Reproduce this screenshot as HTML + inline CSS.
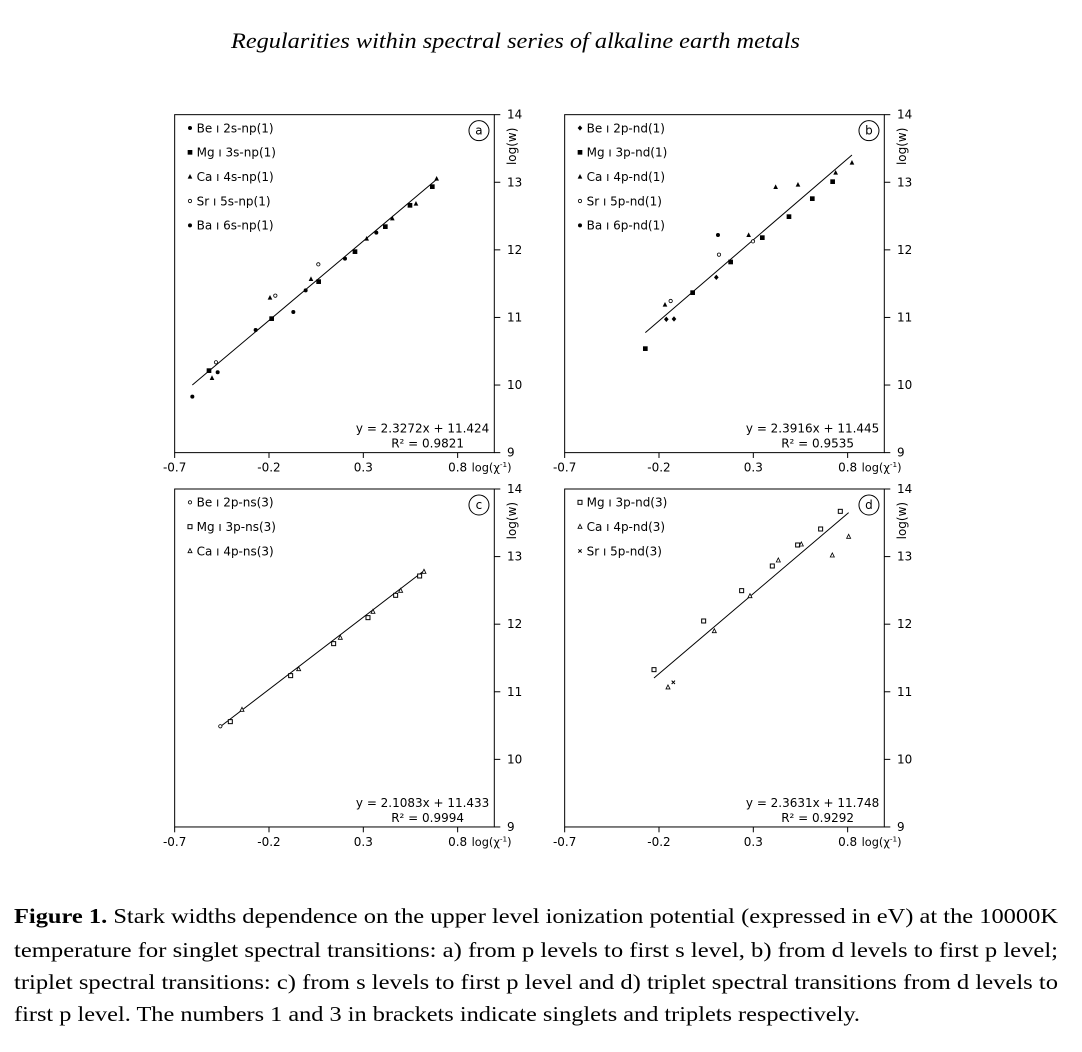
<!DOCTYPE html>
<html><head><meta charset="utf-8">
<style>
html,body{margin:0;padding:0;background:#fff;}
svg{display:block;}
</style></head>
<body>
<svg id="s" width="1082" height="1052" xmlns="http://www.w3.org/2000/svg" font-family="'DejaVu Sans','Liberation Sans',sans-serif">
<rect width="1082" height="1052" fill="#fff"/>
<text x="231" y="48" font-family="'Liberation Serif',serif" font-style="italic" font-size="22" textLength="569" lengthAdjust="spacingAndGlyphs">Regularities within spectral series of alkaline earth metals</text>
<g font-family="'Liberation Serif',serif" font-size="21.5" fill="#000">
<text x="14" y="923" textLength="1044" lengthAdjust="spacingAndGlyphs"><tspan font-weight="bold">Figure 1.</tspan> Stark widths dependence on the upper level ionization potential (expressed in eV) at the 10000K</text>
<text x="14" y="957" textLength="1044" lengthAdjust="spacingAndGlyphs">temperature for singlet spectral transitions: a) from p levels to first s level, b) from d levels to first p level;</text>
<text x="14" y="989" textLength="1044" lengthAdjust="spacingAndGlyphs">triplet spectral transitions: c) from s levels to first p level and d) triplet spectral transitions from d levels to</text>
<text x="14" y="1021" textLength="846" lengthAdjust="spacingAndGlyphs">first p level. The numbers 1 and 3 in brackets indicate singlets and triplets respectively.</text>
</g>
</svg>
<script>
var NS="http://www.w3.org/2000/svg";
var svg=document.getElementById('s');
function el(p,t,a,txt){var e=document.createElementNS(NS,t);for(var k in a)e.setAttribute(k,a[k]);if(txt!==undefined)e.textContent=txt;p.appendChild(e);return e;}
function marker(g,type,x,y){
 if(type=='dot'){el(g,'circle',{cx:x,cy:y,r:6,fill:'#000'});}
 else if(type=='dia'){el(g,'polygon',{points:(x)+','+(y-8)+' '+(x+7)+','+y+' '+x+','+(y+8)+' '+(x-7)+','+y,fill:'#000'});}
 else if(type=='sq'){el(g,'rect',{x:x-7,y:y-7,width:14,height:14,fill:'#000'});}
 else if(type=='tri'){el(g,'polygon',{points:x+','+(y-8)+' '+(x+7)+','+(y+6)+' '+(x-7)+','+(y+6),fill:'#000'});}
 else if(type=='oc'){el(g,'circle',{cx:x,cy:y,r:5,fill:'#fff',stroke:'#000','stroke-width':2.5});}
 else if(type=='osq'){el(g,'rect',{x:x-6,y:y-6,width:12,height:12,fill:'#fff',stroke:'#000','stroke-width':3});}
 else if(type=='otri'){el(g,'polygon',{points:x+','+(y-7)+' '+(x+6)+','+(y+5)+' '+(x-6)+','+(y+5),fill:'#fff',stroke:'#000','stroke-width':2.5});}
 else if(type=='x'){el(g,'path',{d:'M'+(x-5)+' '+(y-5)+'L'+(x+5)+' '+(y+5)+'M'+(x+5)+' '+(y-5)+'L'+(x-5)+' '+(y+5),stroke:'#000','stroke-width':3});}
}
function panel(ox,oy,top,letter,legend,series,line,eq,r2){
 var g=el(svg,'g',{transform:'translate('+ox+','+oy+') scale(0.3333)'});
 var L=44,R=1003,B=top+1014;
 el(g,'rect',{x:L,y:top,width:R-L,height:B-top,fill:'none',stroke:'#000','stroke-width':3});
 for(var i=0;i<=5;i++){var y=top+i*(B-top)/5;el(g,'line',{x1:R,y1:y,x2:R+18,y2:y,stroke:'#000','stroke-width':3});
  el(g,'text',{x:R+38,y:y+12,'font-size':36},String(14-i));}
 var xs=[44,327,610,893],xl=['-0.7','-0.2','0.3','0.8'];
 for(var i=0;i<4;i++){el(g,'line',{x1:xs[i],y1:B,x2:xs[i],y2:B+16,stroke:'#000','stroke-width':3});
  el(g,'text',{x:xs[i],y:B+57,'font-size':36,'text-anchor':'middle'},xl[i]);}
 var t=el(g,'text',{x:935,y:B+57,'font-size':34});
 el(t,'tspan',{},'log(χ');
 el(t,'tspan',{dy:-14,'font-size':22},'-1');
 el(t,'tspan',{dy:14},')');
 el(g,'text',{transform:'translate(1068,'+(top+95)+') rotate(-90)','font-size':36,'text-anchor':'middle'},'log(w)');
 el(g,'circle',{cx:957,cy:top+48,r:30,fill:'none',stroke:'#000','stroke-width':3});
 el(g,'text',{x:957,y:top+60,'font-size':36,'text-anchor':'middle'},letter);
 for(var i=0;i<legend.length;i++){var ly=top+40+i*73;marker(g,legend[i][0],90,ly);
  el(g,'text',{x:110,y:ly+13,'font-size':36},legend[i][1]);}
 el(g,'line',{x1:line[0],y1:line[1],x2:line[2],y2:line[3],stroke:'#000','stroke-width':3});
 series.forEach(function(s){s[1].forEach(function(p){marker(g,s[0],p[0],p[1]);});});
 el(g,'text',{x:988,y:B-60,'font-size':36,'text-anchor':'end'},eq);
 el(g,'text',{x:912,y:B-15,'font-size':36,'text-anchor':'end'},'R² = '+r2);
}
panel(160,100,44,'a',[['dot','Be ı 2s-np(1)'],['sq','Mg ı 3s-np(1)'],['tri','Ca ı 4s-np(1)'],['oc','Sr ı 5s-np(1)'],['dot','Ba ı 6s-np(1)']],
 [['dot',[[97,890],[173,817],[287,690],[400,636],[437,571],[555,476],[649,398]]],
  ['sq',[[147,812],[335,656],[476,545],[585,455],[676,380],[750,316],[817,260]]],
  ['tri',[[156,834],[330,593],[453,537],[620,416],[697,355],[768,311],[830,236]]],
  ['oc',[[168,787],[346,587],[475,493]]]],
 [97,855,830,238],'y = 2.3272x + 11.424','0.9821');
panel(550,100,44,'b',[['dia','Be ı 2p-nd(1)'],['sq','Mg ı 3p-nd(1)'],['tri','Ca ı 4p-nd(1)'],['oc','Sr ı 5p-nd(1)'],['dot','Ba ı 6p-nd(1)']],
 [['dia',[[349,658],[372,657],[499,532]]],
  ['sq',[[286,746],[428,578],[542,486],[637,413],[717,350],[787,296],[848,245]]],
  ['tri',[[345,614],[596,405],[677,261],[744,254],[857,218],[906,188]]],
  ['oc',[[362,603],[507,464],[609,424]]],
  ['dot',[[504,405]]]],
 [286,698,906,165],'y = 2.3916x + 11.445','0.9535');
panel(160,470,57,'c',[['oc','Be ı 2p-ns(3)'],['osq','Mg ı 3p-ns(3)'],['otri','Ca ı 4p-ns(3)']],
 [['oc',[[181,769]]],
  ['osq',[[211,755],[392,617],[521,521],[624,443],[707,376],[779,318]]],
  ['otri',[[246,719],[416,597],[541,503],[639,425],[722,362],[792,305]]]],
 [181,770,795,300],'y = 2.1083x + 11.433','0.9994');
panel(550,470,57,'d',[['osq','Mg ı 3p-nd(3)'],['otri','Ca ı 4p-nd(3)'],['x','Sr ı 5p-nd(3)']],
 [['osq',[[312,599],[461,453],[575,362],[667,288],[743,225],[812,177],[871,124]]],
  ['otri',[[354,652],[493,483],[600,378],[685,271],[754,223],[847,256],[896,200]]],
  ['x',[[370,637]]]],
 [312,624,896,128],'y = 2.3631x + 11.748','0.9292');
</script>
</body></html>
